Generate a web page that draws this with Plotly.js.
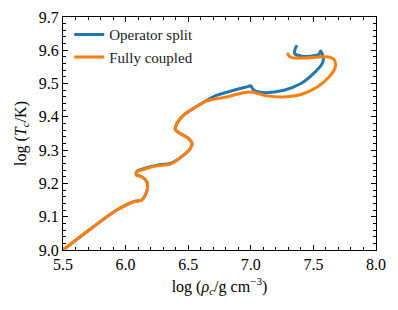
<!DOCTYPE html>
<html>
<head>
<meta charset="utf-8">
<script src="https://cdn.plot.ly/plotly-3.0.1.min.js"></script>
<style>html,body{margin:0;padding:0;background:#fff;}#chart{width:398px;height:310px;}</style>
</head>
<body>
<div id="chart"></div>
<script>
const seriesNames = ["Operator split", "Fully coupled"];

const splitRho = [5.50, 5.743, 5.93, 6.063, 6.13, 6.157, 6.175, 6.17, 6.13, 6.085, 6.09, 6.143, 6.25, 6.357, 6.463, 6.517, 6.53, 6.503, 6.437, 6.397, 6.41, 6.463, 6.543, 6.65, 6.73, 6.864, 6.97, 7.0, 7.024, 7.10, 7.264, 7.40, 7.50, 7.57, 7.58, 7.572, 7.558, 7.545, 7.48, 7.40, 7.35, 7.355, 7.37];
const splitT   = [9.000, 9.070, 9.120, 9.145, 9.150, 9.165, 9.185, 9.205, 9.220, 9.226, 9.236, 9.244, 9.255, 9.260, 9.285, 9.305, 9.320, 9.335, 9.350, 9.362, 9.380, 9.405, 9.426, 9.450, 9.465, 9.480, 9.490, 9.493, 9.480, 9.473, 9.480, 9.500, 9.530, 9.560, 9.575, 9.588, 9.598, 9.588, 9.582, 9.583, 9.590, 9.605, 9.615];

const coupledRho = [5.50, 5.743, 5.93, 6.063, 6.13, 6.157, 6.175, 6.17, 6.13, 6.085, 6.09, 6.143, 6.25, 6.357, 6.463, 6.517, 6.53, 6.503, 6.437, 6.397, 6.41, 6.463, 6.543, 6.65, 6.784, 6.917, 7.0, 7.13, 7.264, 7.40, 7.53, 7.625, 7.665, 7.678, 7.665, 7.624, 7.544, 7.437, 7.33, 7.30, 7.295];
const coupledT   = [9.000, 9.070, 9.120, 9.145, 9.150, 9.165, 9.185, 9.205, 9.220, 9.225, 9.235, 9.242, 9.253, 9.258, 9.285, 9.305, 9.320, 9.335, 9.350, 9.362, 9.380, 9.405, 9.425, 9.448, 9.458, 9.470, 9.475, 9.463, 9.460, 9.467, 9.490, 9.520, 9.540, 9.557, 9.572, 9.580, 9.580, 9.577, 9.578, 9.585, 9.593];

const xTickVals = [5.5, 6.0, 6.5, 7.0, 7.5, 8.0];
const yTickVals = [9.0, 9.1, 9.2, 9.3, 9.4, 9.5, 9.6, 9.7];

const font = "Liberation Serif, DejaVu Serif, serif";

const traces = [
  {x: splitRho, y: splitT, name: seriesNames[0], mode: "lines",
   line: {color: "#1f77b4", width: 3, shape: "spline", smoothing: 0.8}},
  {x: coupledRho, y: coupledT, name: seriesNames[1], mode: "lines",
   line: {color: "#ff7f0e", width: 3, shape: "spline", smoothing: 0.8}}
];

const axisCommon = {
  showgrid: false, zeroline: false, showline: true, linecolor: "#000", linewidth: 1,
  mirror: "allticks", ticks: "inside", ticklen: 5, tickwidth: 1, tickcolor: "#000",
  tickfont: {family: font, size: 16, color: "#000"}, tickformat: ".1f"
};

const layout = {
  width: 398, height: 310,
  margin: {l: 63, r: 22, t: 17, b: 60},
  paper_bgcolor: "#fff", plot_bgcolor: "#fff",
  showlegend: true,
  legend: {x: 0.02, y: 0.995, xanchor: "left", yanchor: "top", bgcolor: "rgba(255,255,255,0)",
           font: {family: font, size: 15, color: "#222"}, tracegroupgap: 0, itemwidth: 30},
  xaxis: Object.assign({}, axisCommon, {
    range: [5.5, 8.0], tickvals: xTickVals,
    minor: {dtick: 0.1, ticks: "inside", ticklen: 3, tickcolor: "#000", tickwidth: 1},
    title: {text: "log (<i>ρ</i><sub><i>c</i></sub>/g cm<sup>−3</sup>)", font: {family: font, size: 16, color: "#000"}, standoff: 8}
  }),
  yaxis: Object.assign({}, axisCommon, {
    range: [9.0, 9.7], tickvals: yTickVals,
    minor: {dtick: 0.02, ticks: "inside", ticklen: 3, tickcolor: "#000", tickwidth: 1},
    title: {text: "log (<i>T</i><sub><i>c</i></sub>/K)", font: {family: font, size: 16, color: "#000"}, standoff: 8}
  })
};

Plotly.newPlot("chart", traces, layout, {staticPlot: true, displayModeBar: false});
</script>
</body>
</html>
